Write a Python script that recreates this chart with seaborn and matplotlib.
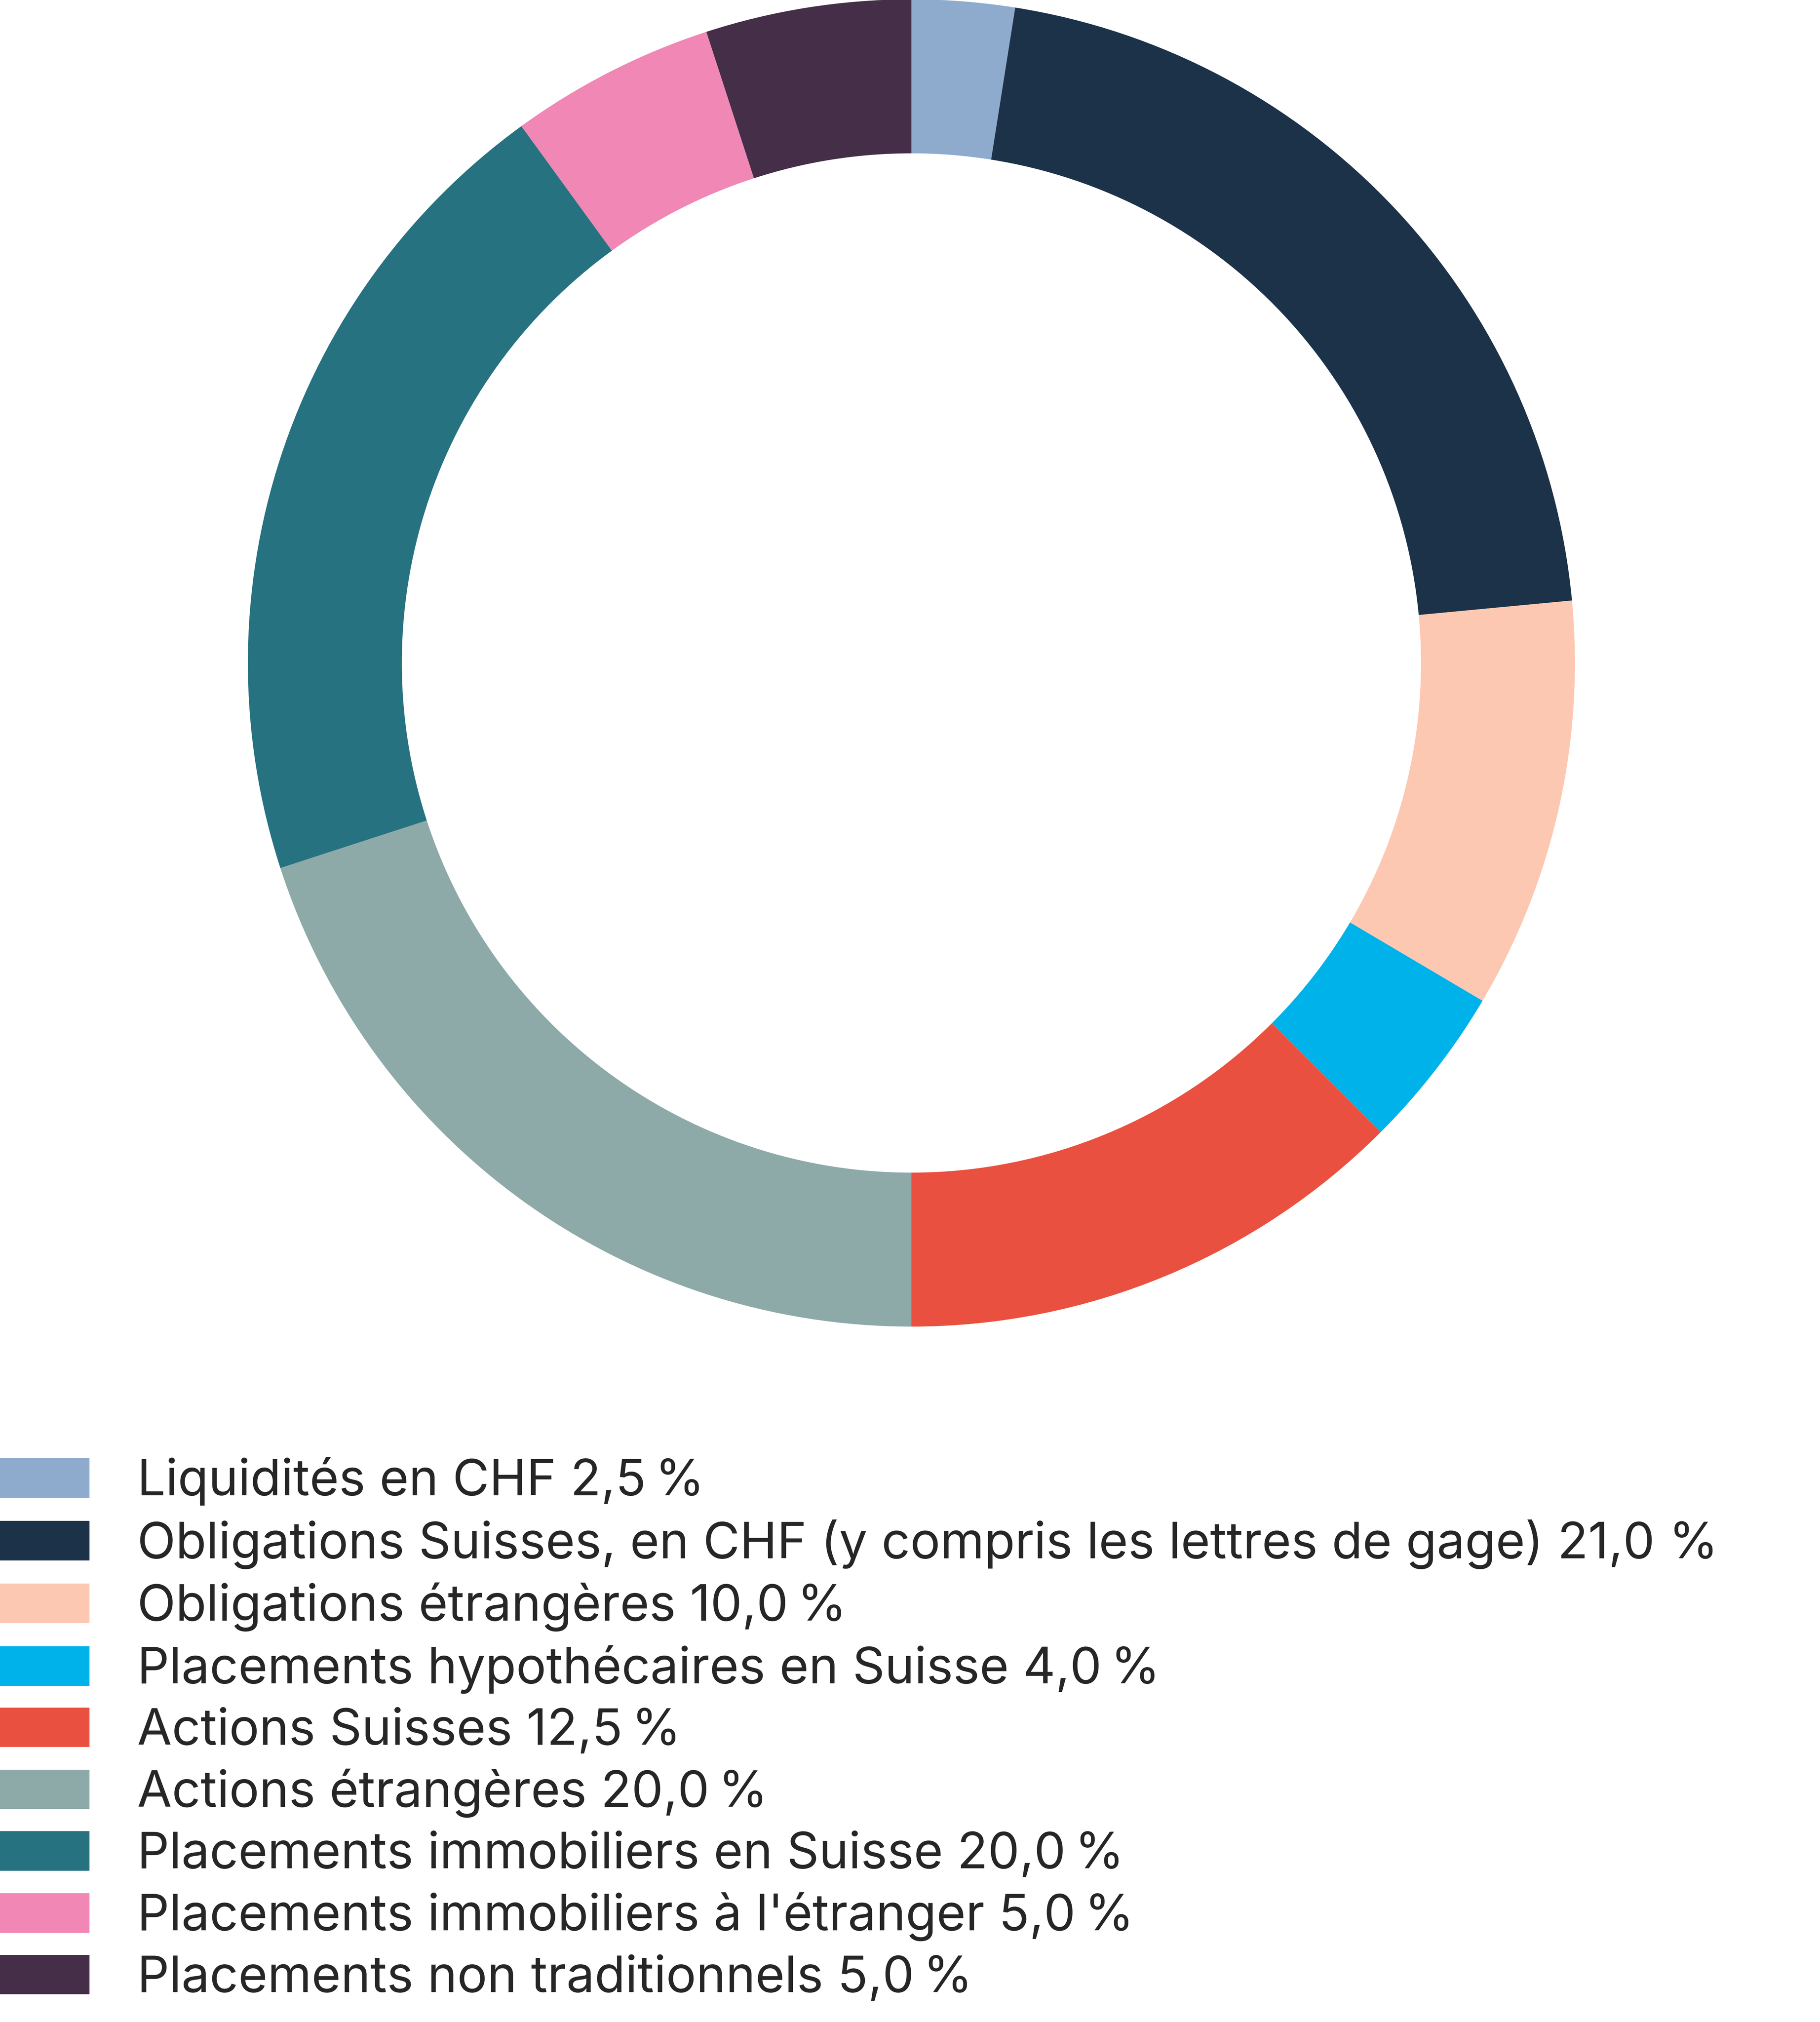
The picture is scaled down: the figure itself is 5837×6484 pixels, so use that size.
import matplotlib
matplotlib.use("Agg")
import matplotlib.pyplot as plt
import seaborn as sns
from matplotlib.patches import Patch

categories = [
    "Liquidités en CHF 2,5\u202f%",
    "Obligations Suisses, en CHF (y compris les lettres de gage) 21,0 %",
    "Obligations étrangères 10,0\u202f%",
    "Placements hypothécaires en Suisse 4,0\u202f%",
    "Actions Suisses 12,5\u202f%",
    "Actions étrangères 20,0\u202f%",
    "Placements immobiliers en Suisse 20,0\u202f%",
    "Placements immobiliers à l'étranger 5,0\u202f%",
    "Placements non traditionnels 5,0\u202f%",
]
values = [2.5, 21.0, 10.0, 4.0, 12.5, 20.0, 20.0, 5.0, 5.0]
colors = ["#8EABCE", "#1C3249", "#FDC8B2", "#00B2EA", "#EA503F",
          "#8DAAA9", "#277280", "#F087B5", "#452E47"]

sns.set_theme(style="white")
plt.rcParams['font.family'] = ['Inter', 'DejaVu Sans']

W, H, DPI = 5837, 6484, 100
fig = plt.figure(figsize=(W / DPI, H / DPI), dpi=DPI)
fig.patch.set_facecolor("white")

cx, cy, R = 2923, 2126, 2128
ax = fig.add_axes([(cx - R) / W, (H - cy - R) / H, 2 * R / W, 2 * R / H])
ax.pie(values, colors=colors, startangle=90, counterclock=False, radius=1.0,
       wedgeprops=dict(width=0.232, edgecolor="none", linewidth=0))
ax.set_xlim(-1, 1)
ax.set_ylim(-1, 1)
ax.set_aspect("equal")
ax.axis("off")

fs_pt = 116
F = fs_pt * DPI / 72.0
handles = [Patch(facecolor=c, edgecolor="none") for c in colors]
fig.legend(handles, categories, loc="upper left",
           bbox_to_anchor=(0.0, 1 - 4673 / H), borderaxespad=0, borderpad=0,
           frameon=False,
           handlelength=287 / F, handleheight=134 / F,
           handletextpad=(440 - 287) / F, labelspacing=0.27,
           prop=dict(family=['Inter', 'DejaVu Sans'], size=fs_pt))

fig.savefig("out.png", dpi=DPI, facecolor="white")
